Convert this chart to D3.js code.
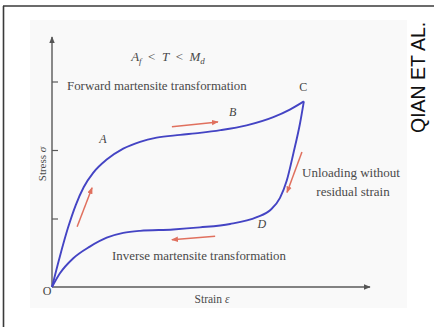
<!DOCTYPE html>
<html>
<head>
<meta charset="utf-8">
<script src="https://cdn.jsdelivr.net/npm/d3@7"></script>
<style>
  html, body { margin: 0; padding: 0; background: #fff; }
  svg { display: block; }
  .serif { font-family: "Liberation Serif", "DejaVu Serif", serif; }
</style>
</head>
<body>
<svg id="chart" width="434" height="327"></svg>
<script>
// Superelastic stress–strain loop (A_f < T < M_d)
// strain and stress in arbitrary units (stress ticks at 1, 2, 3)
const loadingStrain = [0, 0.25, 0.5, 0.75, 1.0, 1.3, 1.72, 2.24, 2.77, 3.29, 4.03, 4.65, 5.3, 6.12, 6.96, 7.48, 7.92];
const loadingStress = [0, 0.45, 0.86, 1.20, 1.46, 1.67, 1.86, 2.02, 2.12, 2.18, 2.22, 2.25, 2.29, 2.36, 2.48, 2.59, 2.71];

// unloading branch listed from the origin up to the peak point C
const unloadingStrain = [0, 0.25, 0.67, 1.19, 1.72, 2.24, 2.77, 3.81, 4.65, 5.60, 6.44, 6.86, 7.17, 7.38, 7.59, 7.80, 7.92];
const unloadingStress = [0, 0.20, 0.42, 0.59, 0.72, 0.79, 0.82, 0.84, 0.87, 0.92, 1.02, 1.12, 1.30, 1.55, 1.95, 2.39, 2.71];

const stressTicks = [1, 2, 3];

// direction arrows along the loop: [x0, y0, x1, y1]
const directionArrows = [
  [0.79, 0.88, 1.26, 1.45],
  [3.77, 2.34, 5.22, 2.41],
  [7.86, 1.97, 7.39, 1.38],
  [5.13, 0.74, 3.77, 0.69]
];

// named points on the loop
const pointNames = ["A", "B", "C", "D"];
const pointStrain = [1.60, 5.68, 7.90, 6.60];
const pointStress = [2.10, 2.49, 2.86, 0.86];

const svg = d3.select("#chart");

// outer frame (top and left rules)
svg.append("line").attr("x1", 3).attr("y1", 6).attr("x2", 434).attr("y2", 6)
  .attr("stroke", "#3a3a3a").attr("stroke-width", 1.6);
svg.append("line").attr("x1", 3.5).attr("y1", 6).attr("x2", 3.5).attr("y2", 327)
  .attr("stroke", "#3a3a3a").attr("stroke-width", 1.6);

// figure panel
svg.append("rect").attr("x", 30).attr("y", 20).attr("width", 377).attr("height", 288)
  .attr("fill", "#f9f9f9");

const x = d3.scaleLinear().domain([0, 10]).range([52, 370]);
const y = d3.scaleLinear().domain([0, 4]).range([287, 13]);

const defs = svg.append("defs");
defs.append("marker").attr("id", "axisHead")
  .attr("viewBox", "0 0 10 10").attr("refX", 9).attr("refY", 5)
  .attr("markerWidth", 5).attr("markerHeight", 5).attr("orient", "auto")
  .append("path").attr("d", "M0,1 L10,5 L0,9 Z").attr("fill", "#555");
defs.append("marker").attr("id", "redHead")
  .attr("viewBox", "0 0 10 10").attr("refX", 9).attr("refY", 5)
  .attr("markerWidth", 4.5).attr("markerHeight", 4.5).attr("orient", "auto")
  .append("path").attr("d", "M0,1 L10,5 L0,9 Z").attr("fill", "#e0705e");

// axes
const axisColor = "#5a5a5a";
svg.append("line").attr("x1", x(0)).attr("y1", y(0)).attr("x2", x(10)).attr("y2", y(0))
  .attr("stroke", axisColor).attr("stroke-width", 1.4).attr("marker-end", "url(#axisHead)");
svg.append("line").attr("x1", x(0)).attr("y1", y(0)).attr("x2", x(0)).attr("y2", y(3.65))
  .attr("stroke", axisColor).attr("stroke-width", 1.4).attr("marker-end", "url(#axisHead)");

const yAxis = d3.axisRight(y).tickValues(stressTicks).tickSize(6).tickFormat("");
const gy = svg.append("g").attr("transform", `translate(${x(0)},0)`).call(yAxis);
gy.select(".domain").remove();
gy.selectAll(".tick line").attr("stroke", axisColor).attr("stroke-width", 1.2);

// loop
const line = d3.line().x(d => x(d[0])).y(d => y(d[1])).curve(d3.curveMonotoneX);
const loading = loadingStrain.map((s, i) => [s, loadingStress[i]]);
const unloading = unloadingStrain.map((s, i) => [s, unloadingStress[i]]);
[loading, unloading].forEach(pts => {
  svg.append("path").datum(pts).attr("d", line)
    .attr("fill", "none").attr("stroke", "#4444c4").attr("stroke-width", 1.9)
    .attr("stroke-linejoin", "round");
});

// direction arrows
svg.selectAll(".dir").data(directionArrows).join("line").attr("class", "dir")
  .attr("x1", d => x(d[0])).attr("y1", d => y(d[1]))
  .attr("x2", d => x(d[2])).attr("y2", d => y(d[3]))
  .attr("stroke", "#e0705e").attr("stroke-width", 1.5)
  .attr("marker-end", "url(#redHead)");

// point labels
svg.selectAll(".pt").data(pointNames).join("text").attr("class", "pt serif")
  .attr("x", (d, i) => x(pointStrain[i])).attr("y", (d, i) => y(pointStress[i]))
  .attr("text-anchor", "middle").attr("font-size", 12)
  .attr("font-style", (d) => d === "C" ? "normal" : "italic")
  .attr("fill", "#444").text(d => d);

// origin
svg.append("text").attr("class", "serif").attr("x", 47).attr("y", 295)
  .attr("text-anchor", "middle").attr("font-size", 12).attr("fill", "#444").text("O");

// annotation texts
const txt = (tx, ty, str, size, anchor) => svg.append("text").attr("class", "serif")
  .attr("x", tx).attr("y", ty).attr("font-size", size)
  .attr("text-anchor", anchor || "start").attr("fill", "#4a4a4a").text(str);

const cond = svg.append("text").attr("class", "serif").attr("x", 168).attr("y", 61)
  .attr("text-anchor", "middle").attr("font-size", 13).attr("fill", "#4a4a4a")
  .attr("font-style", "italic").attr("xml:space", "preserve");
cond.append("tspan").text("A");
cond.append("tspan").attr("font-size", 9).attr("dy", 3).text("f");
cond.append("tspan").attr("dy", -3).attr("font-style", "normal").text("  <  ");
cond.append("tspan").text("T");
cond.append("tspan").attr("font-style", "normal").text("  <  ");
cond.append("tspan").text("M");
cond.append("tspan").attr("font-size", 9).attr("dy", 3).text("d");

txt(67, 90, "Forward martensite transformation", 12.9);
txt(112, 260, "Inverse martensite transformation", 12.9);
txt(351, 177, "Unloading without", 13, "middle");
txt(353, 196, "residual strain", 13, "middle");

const sx = svg.append("text").attr("class", "serif").attr("x", 212).attr("y", 303)
  .attr("text-anchor", "middle").attr("font-size", 11.5).attr("fill", "#4a4a4a");
sx.append("tspan").text("Strain ");
sx.append("tspan").attr("font-style", "italic").text("ε");

const sy = svg.append("text").attr("class", "serif")
  .attr("transform", "translate(46,164) rotate(-90)")
  .attr("text-anchor", "middle").attr("font-size", 11).attr("fill", "#4a4a4a");
sy.append("tspan").text("Stress ");
sy.append("tspan").attr("font-style", "italic").text("σ");

// side credit
svg.append("text").attr("transform", "translate(425,133) rotate(-90)")
  .attr("font-family", "Liberation Sans, Arial, sans-serif").attr("font-size", 19.5)
  .attr("fill", "#111").text("QIAN ET AL.");
</script>
</body>
</html>
